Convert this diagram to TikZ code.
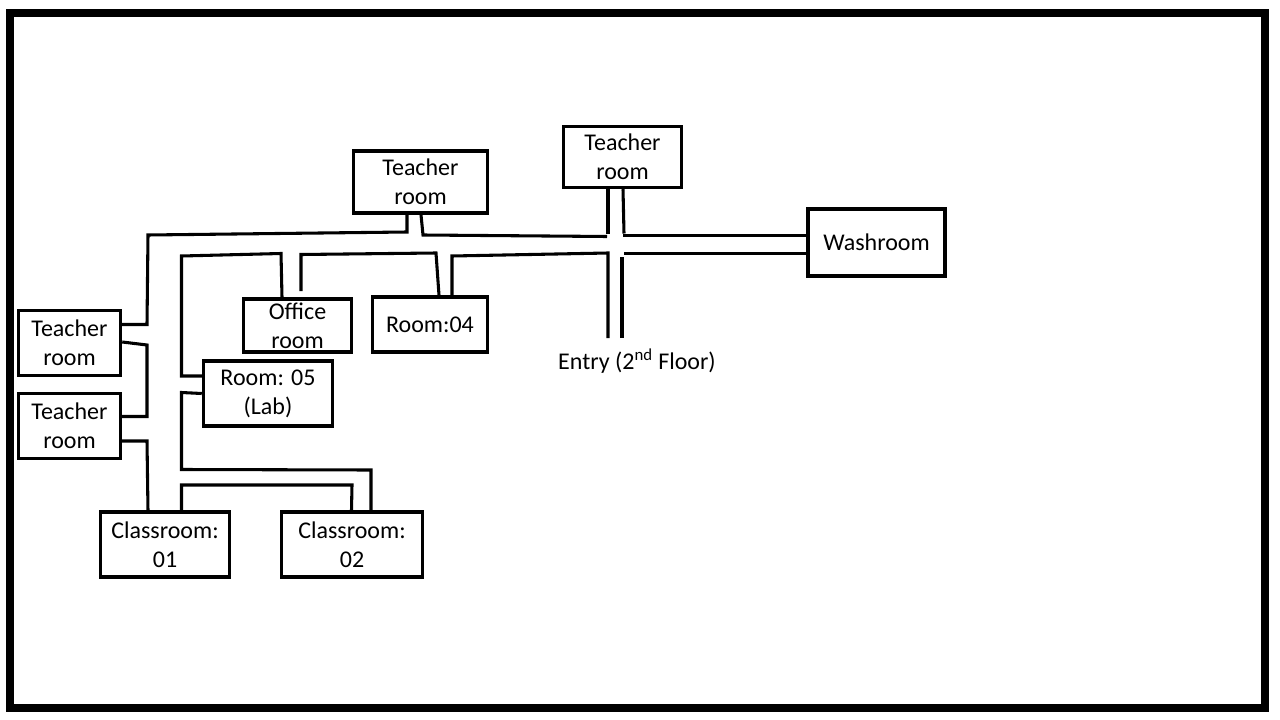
\documentclass[tikz,border=0pt]{standalone}
\usepackage{fontspec}
\setmainfont{Carlito}
\tikzset{
  roombox/.style 2 args={draw, line width=2.6pt, inner sep=0pt, align=center,
    font=\fontsize{18}{21.75}\selectfont, minimum width=#1*0.75pt, minimum height=#2*0.75pt},
  wall/.style={line width=2.3pt, line join=miter}
}
\begin{document}
\begin{tikzpicture}[x=0.75pt,y=-0.75pt]
    \useasboundingbox (0,0) rectangle (1280,720);
    \draw[line width=6pt] (10,13) rectangle (1265,708);
    % rooms
    \node[roombox={102}{65}] at (69.5,343) (TRA) {Teacher\\room};
    \node[roombox={102}{65}] at (69.5,426) (TRB) {Teacher\\room};
    \node[roombox={134}{62}] at (420.5,182) (TRC) {Teacher\\room};
    \node[roombox={118}{61}] at (622.5,157) (TRD) {Teacher\\room};
    \node[roombox={108}{53}] at (297.5,325.5) (OFF) {Office\\room};
    \node[roombox={115}{55}] at (430,324.5) (RFOUR) {Room:04};
    \node[roombox={129}{65}] at (268,393.5) (RFIVE) {Room: 05\\(Lab)};
    \node[roombox={129}{65}] at (165,544.5) (CRA) {Classroom:\\01};
    \node[roombox={141}{65}] at (352,544.5) (CRB) {Classroom:\\02};
    \node[roombox={137}{67}] at (876.5,242.5) (WR) {Washroom};
    \node[font=\fontsize{18}{21.75}\selectfont, inner sep=0pt] at (637,361) (ENTRY) {Entry (2\textsuperscript{nd} Floor)};
    % free ends of the corridor walls
    \coordinate (OFFEND) at (301,291);
    \coordinate (ENTA) at (608,338);
    \coordinate (ENTB) at (622,338);
    % walls
    \draw[wall] (TRA.east |- 0,324.5) -- (147,324.5) -- (148,235) -- (407,232) -- (TRC.south -| 407,0);
    \draw[wall] (TRC.south -| 421,0) -- (423,235) -- (607,236.5);
    \draw[wall] (TRD.south -| 608,0) -- (608,234);
    \draw[wall] (TRD.south -| 623,0) -- (624,233.5);
    \draw[wall] (623,235.5) -- (WR.west |- 0,235.5);
    \draw[wall] (OFF.north -| 282,0) -- (281,253.5) -- (181.5,256) -- (181.5,376) -- (RFIVE.west |- 0,376);
    \draw[wall] (OFFEND) -- (301,254.5) -- (436,253) -- (RFOUR.north -| 439,0);
    \draw[wall] (RFOUR.north -| 452,0) -- (452,256) -- (608,253) -- (ENTA);
    \draw[wall] (ENTB) -- (622,256.5);
    \draw[wall] (624,253.5) -- (WR.west |- 0,253.5);
    \draw[wall] (TRA.east |- 0,342) -- (147,345) -- (147,416.5) -- (TRB.east |- 0,416.5);
    \draw[wall] (TRB.east |- 0,441) -- (147,441) -- (148,511) -- (CRA.north -| 148,0);
    \draw[wall] (RFIVE.west |- 0,393.5) -- (181.5,392.5) -- (181.5,469.5) -- (371,470) -- (CRB.north -| 371,0);
    \draw[wall] (CRA.north -| 181.5,0) -- (181.5,485) -- (352,485) -- (CRB.north -| 351.5,0);
\end{tikzpicture}
\end{document}
